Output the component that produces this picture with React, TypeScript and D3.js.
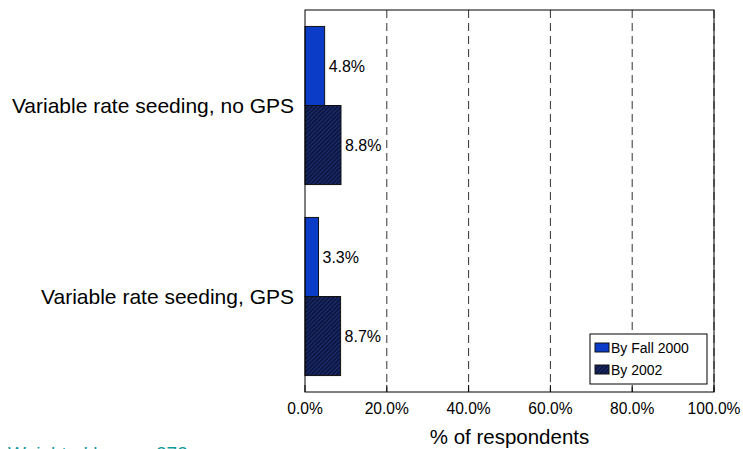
import React, { useRef, useEffect } from 'react';
import * as d3 from 'd3';

const WIDTH = 743;
const HEIGHT = 449;

const categories = ['Variable rate seeding, no GPS', 'Variable rate seeding, GPS'];
const seriesNames = ['By Fall 2000', 'By 2002'];
const fall2000 = [4.8, 3.3];
const by2002 = [8.8, 8.7];
const xTicks = [0, 20, 40, 60, 80, 100];

const M = { left: 305, right: 714, top: 10, bottom: 392 };

export default function App() {
  const svgRef = useRef<SVGSVGElement>(null);

  useEffect(() => {
    if (!svgRef.current) return;
    const svg = d3.select(svgRef.current);
    svg.selectAll('*').remove();
    const font = 'Arial, Liberation Sans, sans-serif';

    const defs = svg.append('defs');
    const pat = defs
      .append('pattern')
      .attr('id', 'hatch')
      .attr('patternUnits', 'userSpaceOnUse')
      .attr('width', 3)
      .attr('height', 3)
      .attr('patternTransform', 'rotate(45)');
    pat.append('rect').attr('width', 3).attr('height', 3).attr('fill', '#0d1640');
    pat.append('line').attr('x1', 0).attr('y1', 0).attr('x2', 0).attr('y2', 3)
      .attr('stroke', '#2a4aa8').attr('stroke-width', 1);

    const x = d3.scaleLinear().domain([0, 100]).range([M.left, M.right]);
    const y = d3.scaleBand().domain(categories).range([M.top, M.bottom]).paddingInner(0).paddingOuter(0);
    const inner = d3.scaleBand().domain(seriesNames).range([0, y.bandwidth()]).paddingOuter(0.208).paddingInner(0);

    // gridlines
    svg.append('g')
      .selectAll('line')
      .data(xTicks.filter((t) => t > 0))
      .join('line')
      .attr('x1', (d) => x(d))
      .attr('x2', (d) => x(d))
      .attr('y1', M.top)
      .attr('y2', M.bottom)
      .attr('stroke', '#333')
      .attr('stroke-dasharray', '8,5');

    const fills = ['#0a3cc8', 'url(#hatch)'];
    const data = [fall2000, by2002];

    categories.forEach((c, ci) => {
      seriesNames.forEach((s, si) => {
        const v = data[si][ci];
        const y0 = (y(c) ?? 0) + (inner(s) ?? 0);
        svg.append('rect')
          .attr('x', x(0))
          .attr('y', y0)
          .attr('width', x(v) - x(0))
          .attr('height', inner.bandwidth())
          .attr('fill', fills[si])
          .attr('stroke', '#111')
          .attr('stroke-width', 1);
        svg.append('text')
          .attr('x', x(v) + 4)
          .attr('y', y0 + inner.bandwidth() / 2)
          .attr('dy', '0.35em')
          .attr('font-family', font)
          .attr('font-size', 16)
          .attr('fill', '#000')
          .text(`${v.toFixed(1)}%`);
      });
      svg.append('text')
        .attr('x', M.left - 11)
        .attr('y', (y(c) ?? 0) + y.bandwidth() / 2)
        .attr('dy', '0.35em')
        .attr('text-anchor', 'end')
        .attr('font-family', font)
        .attr('font-size', 21)
        .attr('fill', '#000')
        .text(c);
    });

    // frame
    svg.append('rect')
      .attr('x', M.left)
      .attr('y', M.top)
      .attr('width', M.right - M.left)
      .attr('height', M.bottom - M.top)
      .attr('fill', 'none')
      .attr('stroke', '#000')
      .attr('stroke-width', 1);

    // ticks
    svg.append('g')
      .selectAll('line')
      .data(xTicks)
      .join('line')
      .attr('x1', (d) => x(d))
      .attr('x2', (d) => x(d))
      .attr('y1', M.bottom - 7)
      .attr('y2', M.bottom)
      .attr('stroke', '#000');

    svg.append('g')
      .selectAll('text')
      .data(xTicks)
      .join('text')
      .attr('x', (d) => x(d))
      .attr('y', M.bottom + 17)
      .attr('dy', '0.35em')
      .attr('text-anchor', 'middle')
      .attr('font-family', font)
      .attr('font-size', 15.6)
      .attr('fill', '#000')
      .text((d) => `${d.toFixed(1)}%`);

    svg.append('text')
      .attr('x', (M.left + M.right) / 2)
      .attr('y', 437)
      .attr('dy', '0.35em')
      .attr('text-anchor', 'middle')
      .attr('font-family', font)
      .attr('font-size', 20.5)
      .attr('fill', '#000')
      .text('% of respondents');

    // legend
    const lg = svg.append('g').attr('transform', 'translate(590, 334)');
    lg.append('rect').attr('width', 117).attr('height', 50).attr('fill', '#fff').attr('stroke', '#000');
    seriesNames.forEach((s, i) => {
      lg.append('rect')
        .attr('x', 5)
        .attr('y', 9 + i * 22)
        .attr('width', 14)
        .attr('height', 9)
        .attr('fill', fills[i])
        .attr('stroke', '#111');
      lg.append('text')
        .attr('x', 21)
        .attr('y', 14 + i * 22)
        .attr('dy', '0.35em')
        .attr('font-family', font)
        .attr('font-size', 14)
        .attr('fill', '#000')
        .text(s);
    });

    svg.append('text')
      .attr('x', 8)
      .attr('y', 460)
      .attr('font-family', font)
      .attr('font-size', 19)
      .attr('fill', '#139a9a')
      .text('Weighted base = 273');
  }, []);

  return (
    <svg
      ref={svgRef}
      width={WIDTH}
      height={HEIGHT}
      style={{ position: 'absolute', left: 0, top: 0, background: '#fff' }}
    />
  );
}
